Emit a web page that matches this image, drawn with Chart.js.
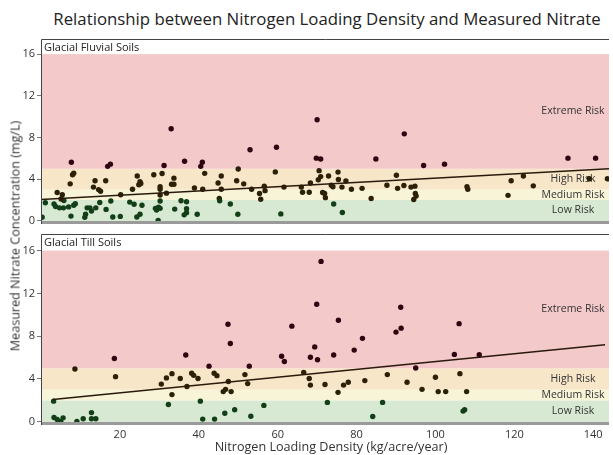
<!DOCTYPE html>
<html>
<head>
<meta charset="utf-8">
<script src="https://cdn.jsdelivr.net/npm/chart.js@4.4.0/dist/chart.umd.min.js"></script>
<style>
  html, body { margin: 0; padding: 0; background: #fff; }
  body { width: 613px; height: 455px; position: relative; overflow: hidden; font-family: 'Open Sans', sans-serif; color: #333; }
  canvas { position: absolute; left: 0; }
  #title { position: absolute; left: 41px; width: 572px; top: 7px; text-align: center; font-size: 16.8px; color: #222; white-space: nowrap; }
  #xtitle { position: absolute; left: 45px; width: 572px; top: 438px; text-align: center; font-size: 12.6px; color: #333; white-space: nowrap; }
  #ytitle { position: absolute; left: 15px; top: 236px; transform: translate(-50%, -50%) rotate(-90deg); font-size: 12.6px; color: #333; white-space: nowrap; }
</style>
</head>
<body>
<div id="title">Relationship between Nitrogen Loading Density and Measured Nitrate</div>
<canvas id="fluvialChart" width="613" height="193" style="top:35px"></canvas>
<canvas id="tillChart" width="613" height="225" style="top:230px"></canvas>
<div id="ytitle">Measured Nitrate Concentration (mg/L)</div>
<div id="xtitle">Nitrogen Loading Density (kg/acre/year)</div>
<script>
// risk bands (mg/L) and their names
const bandEdges = [0, 2, 3, 5, 16];
const bandNames = ['Low Risk', 'Medium Risk', 'High Risk', 'Extreme Risk'];
const bandColors = ['#d7e9d2', '#f8f4d8', '#f8e6c9', '#f4c9ca'];

const yTicks = [0, 4, 8, 12, 16];
const xTicks = [20, 40, 60, 80, 100, 120, 140];

// Glacial Fluvial Soils
const fluvialX = [33.0, 7.7, 16.9, 17.6, 31.2, 8.0, 8.3, 7.4, 13.7, 16.4, 13.3, 14.6, 15.1, 24.4, 25.1, 25.3, 24.8, 23.2, 28.6, 30.7,
  33.7, 33.1, 33.7, 30.2, 30.2, 30.2, 31.8, 4.1, 5.4, 5.8, 5.1, 1.1, 3.3, 3.7, 4.7, 5.7, 7.0, 8.3, 8.7, 7.6,
  11.7, 12.4, 12.8, 13.9, 11.3, 11.1, 14.9, 16.5, 17.7, 18.2, 20.1, 20.2, 22.5, 23.6, 25.6, 25.1, 24.3, 29.0, 29.8, 30.2,
  29.3, 30.2, 33.9, 35.5, 29.7, 0.3,
  70.0, 53.0, 59.7, 36.4, 40.9, 40.5, 69.8, 70.9, 41.5, 45.7, 50.0, 59.4, 70.5, 44.9, 49.6, 51.4, 70.9, 70.3, 68.3, 38.9,
  41.0, 45.7, 53.4, 56.6, 56.8, 55.4, 55.7, 61.6, 66.0, 66.3, 68.0, 71.4, 36.9, 36.9, 36.9, 36.3, 39.6, 45.2, 45.3, 48.0,
  49.9, 60.8,
  92.1, 84.9, 97.0, 102.3, 72.9, 75.3, 75.4, 77.3, 73.6, 74.0, 76.3, 78.7, 81.4, 90.1, 87.7, 90.4, 92.0, 93.8, 94.8, 94.9,
  95.1, 94.5, 71.9, 72.1, 83.7, 74.2, 76.4,
  133.6, 140.6, 122.3, 119.2, 108.0, 108.2, 124.8, 118.4, 139.0, 143.6];
const fluvialY = [8.84, 5.63, 5.23, 5.44, 5.32, 4.43, 4.58, 3.55, 3.85, 3.85, 3.24, 3.0, 2.84, 4.31, 3.76, 3.58, 3.46, 3.03, 4.43, 4.55,
  4.1, 3.51, 3.51, 3.27, 3.03, 2.48, 2.66, 2.72, 2.5, 1.96, 2.1, 1.74, 1.62, 1.38, 1.25, 1.25, 1.34, 1.5, 1.65, 0.46,
  1.25, 1.25, 0.95, 1.25, 0.64, 0.34, 1.77, 1.1, 1.9, 0.37, 0.43, 2.5, 1.8, 1.59, 1.5, 0.64, 0.37, 1.2, 1.32, 1.2,
  1.04, 1.9, 1.13, 1.93, 0.03, 0.35,
  9.7, 6.82, 7.06, 5.72, 5.62, 5.23, 6.02, 5.93, 4.56, 4.31, 4.98, 4.7, 4.82, 3.64, 3.85, 3.55, 4.25, 3.94, 3.64, 3.15,
  3.03, 3.03, 3.03, 3.33, 2.9, 2.63, 2.08, 3.24, 3.24, 2.75, 2.75, 2.72, 1.83, 1.16, 0.79, 0.58, 0.64, 2.14, 1.93, 1.62,
  0.64, 0.67,
  8.35, 5.93, 5.32, 5.44, 4.31, 4.68, 3.97, 3.82, 3.42, 3.27, 3.24, 3.03, 3.12, 4.38, 3.42, 3.12, 3.39, 3.24, 3.33, 2.63,
  2.39, 2.05, 2.63, 2.23, 2.14, 1.62, 0.8,
  6.02, 6.02, 4.31, 3.85, 3.27, 3.03, 3.36, 2.45, 4.04, 4.04];
const fluvialTrendX = [0, 144];
const fluvialTrendY = [2.05, 5.0];

// Glacial Till Soils
const tillX = [18.6, 8.6, 18.9, 30.5, 31.8, 33.2, 35.3, 33.2, 32.3, 3.2, 3.3, 4.1, 5.0, 5.6, 9.1, 10.7, 12.8, 12.8, 13.9,
  71.0, 69.9, 47.4, 63.6, 48.0, 36.7, 69.4, 61.0, 61.7, 68.3, 70.1, 42.6, 52.8, 38.2, 38.7, 39.8, 43.9, 44.6, 51.7, 47.5,
  52.4, 37.0, 66.6, 68.0, 68.3, 46.2, 46.8, 48.2, 40.4, 41.0, 44.0, 46.6, 49.1, 53.2, 56.5,
  91.2, 75.4, 90.0, 91.3, 81.5, 79.4, 74.2, 106.0, 104.8, 95.0, 72.0, 76.7, 77.9, 82.1, 87.8, 92.8, 100.0, 106.2, 75.3, 96.6,
  100.7, 102.6, 72.6, 86.6, 84.1, 107.0, 111.1, 107.9, 107.4];
const tillY = [5.91, 4.93, 4.22, 3.52, 4.1, 4.5, 4.04, 2.54, 1.62, 1.93, 0.4, 0.21, 0.03, 0.37, 0.03, 0.28, 0.86, 0.28, 0.28,
  14.99, 10.98, 9.12, 8.94, 7.31, 6.24, 7.0, 6.12, 5.63, 6.03, 5.8, 5.2, 5.2, 4.53, 4.34, 4.04, 4.53, 4.31, 4.41, 3.76,
  3.57, 3.3, 4.62, 4.04, 3.43, 2.82, 3.03, 2.82, 1.93, 0.25, 0.25, 0.8, 1.13, 0.52, 1.53,
  10.7, 9.49, 8.38, 8.75, 7.8, 6.7, 6.24, 9.17, 6.3, 5.02, 3.49, 3.43, 3.7, 3.85, 4.41, 3.7, 4.16, 4.5, 2.75, 3.03,
  2.82, 2.82, 1.81, 1.81, 0.49, 1.0, 6.27, 2.82, 1.13];
const tillTrendX = [3, 143];
const tillTrendY = [2.08, 7.2];

const tickFont = { family: "'Open Sans', sans-serif", size: 11 };

function riskColor(v) {
  if (v >= 5) return '#2e0611';
  if (v >= 2) return '#2c2007';
  return '#123f17';
}

// background bands, panel header and frame
const panelPlugin = {
  id: 'panel',
  beforeDatasetsDraw(chart, args, opts) {
    const { ctx, chartArea: ca, scales: { y } } = chart;
    ctx.save();
    for (let i = 0; i < bandNames.length; i++) {
      const lo = i === 0 ? y.min : bandEdges[i];
      const yTop = y.getPixelForValue(bandEdges[i + 1]);
      const yBot = y.getPixelForValue(lo);
      ctx.fillStyle = bandColors[i];
      ctx.fillRect(ca.left, yTop, ca.width, yBot - yTop);
    }
    ctx.font = "10.5px 'Open Sans', sans-serif";
    ctx.fillStyle = '#333';
    ctx.textAlign = 'center';
    ctx.textBaseline = 'middle';
    for (let i = 0; i < bandNames.length; i++) {
      const mid = (bandEdges[i] + bandEdges[i + 1]) / 2;
      ctx.fillText(bandNames[i], ca.right - 36, y.getPixelForValue(mid));
    }
    ctx.font = "11px 'Open Sans', sans-serif";
    ctx.textAlign = 'left';
    ctx.fillStyle = '#222';
    ctx.fillText(opts.name, ca.left + 3, ca.top + 9);
    ctx.restore();
  },
  afterDraw(chart) {
    const { ctx, chartArea: ca } = chart;
    ctx.save();
    ctx.strokeStyle = '#9a9a9a';
    ctx.lineWidth = 3;
    ctx.beginPath();
    ctx.moveTo(ca.left, ca.bottom - 1.5);
    ctx.lineTo(ca.right, ca.bottom - 1.5);
    ctx.stroke();
    ctx.strokeStyle = '#444';
    ctx.lineWidth = 1;
    ctx.beginPath();
    ctx.moveTo(ca.left + 0.5, ca.bottom);
    ctx.lineTo(ca.left + 0.5, ca.top + 0.5);
    ctx.lineTo(ca.right, ca.top + 0.5);
    ctx.stroke();
    ctx.restore();
  }
};

function makePanel(id, name, xs, ys, trendX, trendY, yMax, showX) {
  const points = xs.map((x, i) => ({ x: x, y: ys[i] }));
  const trend = trendX.map((x, i) => ({ x: x, y: trendY[i] }));
  new Chart(document.getElementById(id), {
    type: 'scatter',
    data: {
      datasets: [{
        data: points,
        pointRadius: 2.7,
        pointBorderWidth: 0,
        pointBackgroundColor: (c) => riskColor(c.raw ? c.raw.y : 0),
        order: 2
      }, {
        type: 'line',
        data: trend,
        borderColor: '#2a1a0c',
        borderWidth: 1.6,
        pointRadius: 0,
        order: 1
      }]
    },
    options: {
      responsive: false,
      animation: false,
      devicePixelRatio: 1,
      layout: { padding: 0 },
      plugins: { legend: { display: false }, tooltip: { enabled: false }, panel: { name: name } },
      scales: {
        x: {
          type: 'linear', min: 0, max: 144, display: showX,
          grid: { display: false, drawTicks: false }, border: { display: false },
          afterBuildTicks: (s) => { s.ticks = xTicks.map(v => ({ value: v })); },
          afterFit: (s) => {
            if (showX) s.height = 30;
            s.paddingLeft = 0; s.paddingRight = 0;
          },
          ticks: { font: tickFont, color: '#333', padding: 3 }
        },
        y: {
          min: -0.3, max: yMax,
          grid: { drawOnChartArea: false, tickLength: 4, color: '#777' },
          border: { display: false },
          afterBuildTicks: (s) => { s.ticks = yTicks.map(v => ({ value: v })); },
          afterFit: (s) => { s.width = 41; s.paddingTop = 0; s.paddingBottom = 0; },
          ticks: { font: tickFont, color: '#333', padding: 2 }
        }
      }
    },
    plugins: [panelPlugin]
  });
}

makePanel('fluvialChart', 'Glacial Fluvial Soils', fluvialX, fluvialY, fluvialTrendX, fluvialTrendY, 17.45, false);
makePanel('tillChart', 'Glacial Till Soils', tillX, tillY, tillTrendX, tillTrendY, 17.55, true);
</script>
</body>
</html>
